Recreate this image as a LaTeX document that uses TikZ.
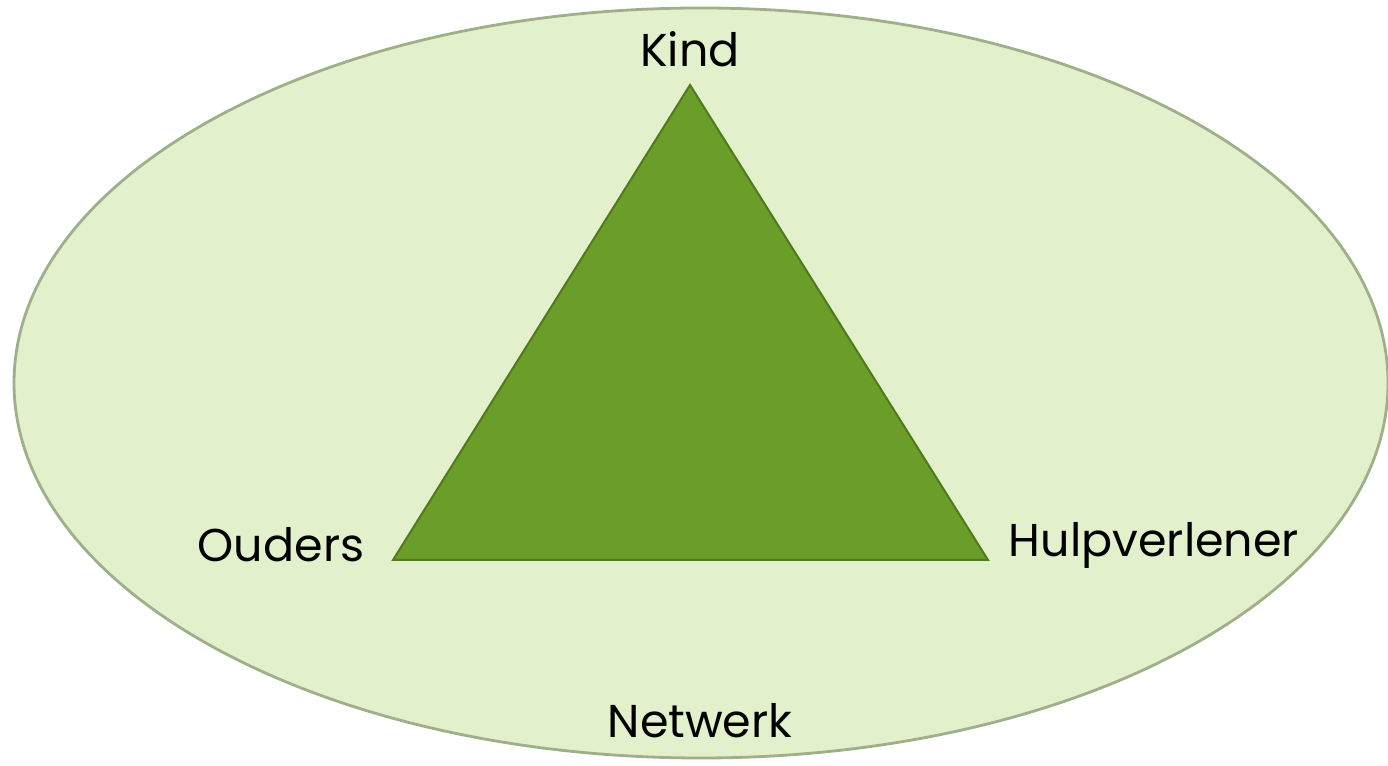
\documentclass[tikz,border=0pt]{standalone}
\usepackage{fontspec}
\setmainfont{Poppins}
\usetikzlibrary{shapes.geometric}
\definecolor{ellfill}{HTML}{E2F0CB}
\definecolor{elldraw}{HTML}{9EAF8A}
\definecolor{trifill}{HTML}{6B9E28}
\definecolor{tridraw}{HTML}{4F7A1C}
\tikzset{lbl/.style={font=\fontsize{46}{52}\selectfont, text=black, inner sep=0pt}}
\begin{document}
\begin{tikzpicture}[x=1pt,y=1pt]
\useasboundingbox (0,0) rectangle (1388,765);
\node[draw=elldraw, line width=2.8pt, fill=ellfill, ellipse, minimum width=1374pt, minimum height=750pt, inner sep=0pt] (net) at (701,382) {};
\coordinate (k) at (690,680);
\coordinate (o) at (393,205);
\coordinate (h) at (988,205);
\draw[draw=tridraw, line width=2pt, fill=trifill, line join=miter] (k) -- (h) -- (o) -- cycle;
\node[lbl] (kind) at (690,716) {Kind};
\node[lbl] (ouders) at (281,220) {Ouders};
\node[lbl] (hulp) at (1154,220) {Hulpverlener};
\node[lbl] (netwerk) at (700,44) {Netwerk};
\end{tikzpicture}
\end{document}
